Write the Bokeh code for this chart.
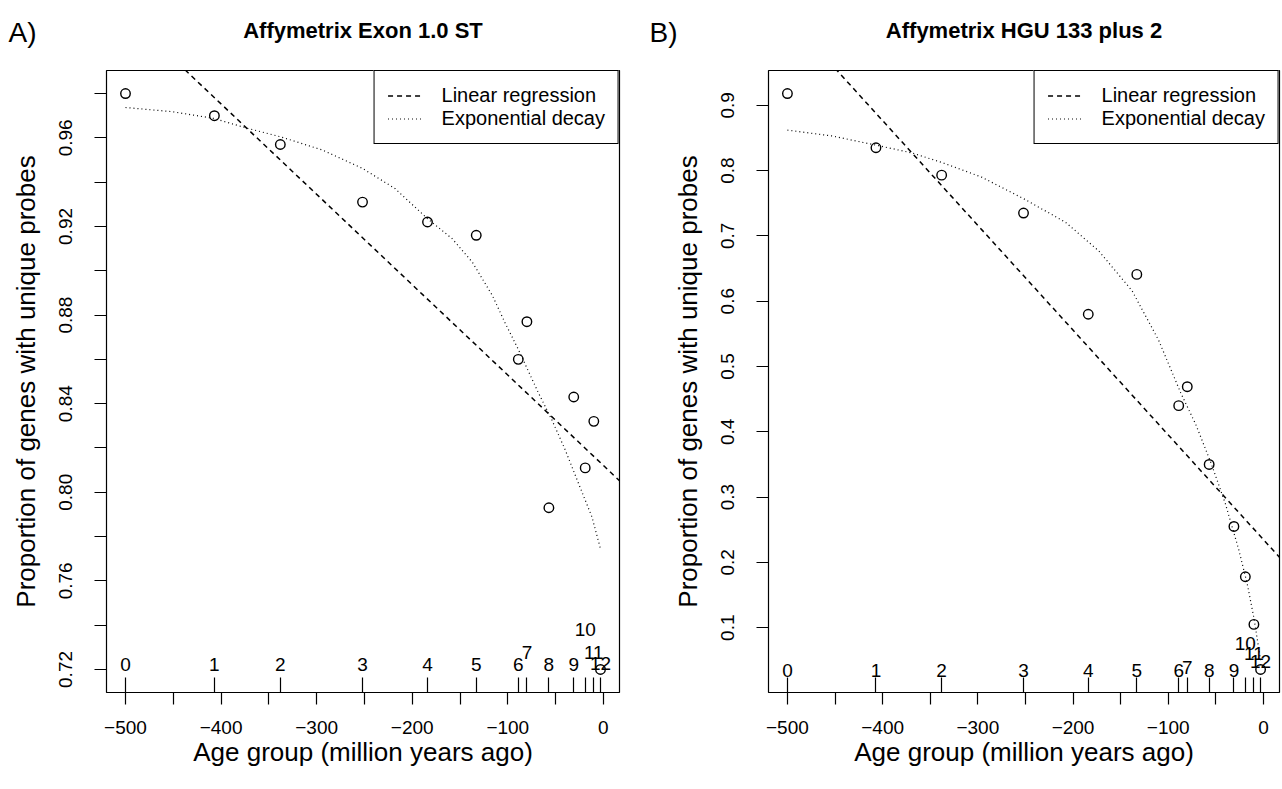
from bokeh.plotting import figure
from bokeh.layouts import row, column
from bokeh.models import FixedTicker, Range1d, NumeralTickFormatter
from bokeh.embed import file_html
from bokeh.resources import INLINE
from bokeh.core.properties import value

FONT = "Liberation Sans"

# ---------------- data ----------------
age_group = [str(i) for i in range(13)]
age_mya = [-500, -407, -338, -252, -184, -133, -89, -80, -57, -31, -19, -10, -3]

exon_prop = [0.980, 0.970, 0.957, 0.931, 0.922, 0.916, 0.860, 0.877, 0.793, 0.843, 0.811, 0.832, 0.720]
hgu_prop = [0.918, 0.835, 0.793, 0.735, 0.580, 0.641, 0.440, 0.469, 0.350, 0.255, 0.178, 0.105, 0.036]

# linear regression lines (intercept at 0 Mya, slope per Myr)
exon_lin_intercept, exon_lin_slope = 0.8121, -0.000408
hgu_lin_intercept, hgu_lin_slope = 0.2349, -0.001604

# exponential decay fitted curves
exon_decay_x = [-500, -451, -408, -374, -338, -294, -252, -218, -184, -158, -137, -116, -103, -89, -68, -54, -40, -26, -12, -3]
exon_decay_y = [0.9737, 0.9718, 0.9688, 0.9645, 0.9605, 0.9545, 0.9462, 0.9371, 0.9235, 0.9144, 0.9038, 0.8887,
                0.8766, 0.8645, 0.8449, 0.8328, 0.8192, 0.8040, 0.7889, 0.7745]
hgu_decay_x = [-500, -453, -407, -369, -337, -296, -252, -208, -173, -138, -110, -87, -71, -55, -40, -26, -17, -10, -3]
hgu_decay_y = [0.862, 0.853, 0.839, 0.827, 0.812, 0.790, 0.757, 0.721, 0.677, 0.616, 0.540, 0.460, 0.411,
               0.352, 0.290, 0.220, 0.167, 0.115, 0.050]

x_ticks = list(range(-500, 1, 50))
exon_y_major = [0.72, 0.76, 0.80, 0.84, 0.88, 0.92, 0.96]
exon_y_minor = [0.74, 0.78, 0.82, 0.86, 0.90, 0.94, 0.98]
hgu_y_major = [0.1, 0.2, 0.3, 0.4, 0.5, 0.6, 0.7, 0.8, 0.9]

panel_titles = ["Affymetrix Exon 1.0 ST", "Affymetrix HGU 133 plus 2"]
panel_letters = ["A)", "B)"]

# ---------------- layout / style ----------------
HEADER_H = 66
FRAME_H = 622
TOP = 4
BOTTOM = 88
L1, W1, R1 = 106, 513, 24       # left panel borders / frame width
L2, W2, R2 = 125, 511, 2        # right panel
TOTAL_W = L1 + W1 + R1 + L2 + W2 + R2


def fmt_x(t):
    if t % 100 != 0:
        return ""
    return "\u2212" + str(abs(t)) if t < 0 else str(t)


x_tick_labels = {t: fmt_x(t) for t in x_ticks}


def pad(lo, hi):
    d = (hi - lo) * 0.04
    return lo - d, hi + d


def panel(props, lin_a, lin_b, dx, dy, y_major, y_minor, y_fmt,
          raise_px, border_left, frame_w, border_right):
    x0, x1 = pad(min(age_mya), max(age_mya))
    y0, y1 = pad(min(props), max(props))
    p = figure(frame_width=frame_w, frame_height=FRAME_H,
               min_border_left=border_left, min_border_right=border_right,
               min_border_top=TOP, min_border_bottom=BOTTOM,
               x_range=Range1d(x0, x1), y_range=Range1d(y0, y1),
               output_backend="svg", toolbar_location=None, tools="")
    p.xgrid.visible = False
    p.ygrid.visible = False
    p.background_fill_color = "white"
    p.border_fill_color = "white"
    p.outline_line_color = "black"
    p.outline_line_width = 1.2
    p.outline_line_alpha = 1.0

    # x axis
    xa = p.xaxis[0]
    xa.ticker = FixedTicker(ticks=x_ticks, minor_ticks=age_mya)
    xa.major_label_overrides = x_tick_labels
    xa.axis_line_color = None
    xa.major_tick_in = 0
    xa.major_tick_out = 12
    xa.minor_tick_in = 15
    xa.minor_tick_out = 0
    xa.major_tick_line_color = "black"
    xa.minor_tick_line_color = "black"
    xa.major_tick_line_width = 1.2
    xa.minor_tick_line_width = 1.2
    xa.major_label_text_font = FONT
    xa.major_label_text_font_size = "19px"
    xa.major_label_text_color = "black"
    xa.major_label_standoff = 16
    xa.axis_label = "Age group (million years ago)"
    xa.axis_label_text_font = FONT
    xa.axis_label_text_font_size = "26px"
    xa.axis_label_text_font_style = "normal"
    xa.axis_label_text_color = "black"
    xa.axis_label_standoff = 0

    # y axis
    ya = p.yaxis[0]
    ya.ticker = FixedTicker(ticks=y_major, minor_ticks=y_minor)
    ya.formatter = NumeralTickFormatter(format=y_fmt)
    ya.axis_line_color = None
    ya.major_tick_in = 0
    ya.major_tick_out = 12
    ya.minor_tick_in = 0
    ya.minor_tick_out = 12
    ya.major_tick_line_color = "black"
    ya.minor_tick_line_color = "black"
    ya.major_tick_line_width = 1.2
    ya.minor_tick_line_width = 1.2
    ya.major_label_orientation = "vertical"
    ya.major_label_text_font = FONT
    ya.major_label_text_font_size = "19px"
    ya.major_label_text_color = "black"
    ya.major_label_standoff = 22
    ya.axis_label = "Proportion of genes with unique probes"
    ya.axis_label_text_font = FONT
    ya.axis_label_text_font_size = "26px"
    ya.axis_label_text_font_style = "normal"
    ya.axis_label_text_color = "black"
    ya.axis_label_standoff = 16

    # fitted lines
    lin_x = [x0, x1]
    lin_y = [lin_a + lin_b * x for x in lin_x]
    p.line(lin_x, lin_y, line_color="black", line_width=1.5, line_dash="5 4",
           legend_label="Linear regression")
    p.line(dx, dy, line_color="black", line_width=1.2, line_dash="1 3",
           legend_label="Exponential decay")

    # points
    p.scatter(age_mya, props, marker="circle", size=9.5, fill_color=None,
              line_color="black", line_width=1.4)

    # age group numbers above the rug ticks
    lab_y = [y0 + r * (y1 - y0) / FRAME_H for r in raise_px]
    p.text(x=age_mya, y=lab_y, text=age_group, text_align="center",
           text_baseline="alphabetic", text_font=value(FONT),
           text_font_size="19px", text_color="black")

    # legend
    lg = p.legend[0]
    lg.location = "top_right"
    lg.margin = 0
    lg.padding = 13
    lg.spacing = 0
    lg.glyph_width = 36
    lg.glyph_height = 23
    lg.label_height = 23
    lg.label_standoff = 18
    lg.label_text_font = FONT
    lg.label_text_font_size = "20px"
    lg.label_text_color = "black"
    lg.border_line_color = "black"
    lg.border_line_width = 1.2
    lg.border_line_alpha = 1.0
    lg.background_fill_alpha = 1.0
    return p


exon_raise = [28, 28, 28, 28, 28, 28, 28, 40, 28, 28, 63, 40, 29]
hgu_raise = [22, 22, 22, 22, 22, 22, 22, 25, 22, 22, 49, 39, 31]

p1 = panel(exon_prop, exon_lin_intercept, exon_lin_slope,
           exon_decay_x, exon_decay_y, exon_y_major, exon_y_minor, "0.00",
           exon_raise, L1, W1, R1)
p2 = panel(hgu_prop, hgu_lin_intercept, hgu_lin_slope,
           hgu_decay_x, hgu_decay_y, hgu_y_major, [], "0.0",
           hgu_raise, L2, W2, R2)

# header strip with panel letters and titles (pixel coordinates, y downwards)
header = figure(frame_width=TOTAL_W, frame_height=HEADER_H,
                min_border_left=0, min_border_right=0, min_border_top=0, min_border_bottom=0,
                x_range=Range1d(0, TOTAL_W), y_range=Range1d(HEADER_H, 0),
                x_axis_location=None, y_axis_location=None,
                output_backend="svg", toolbar_location=None, tools="")
header.xgrid.visible = False
header.ygrid.visible = False
header.outline_line_color = None
header.background_fill_color = "white"
header.border_fill_color = "white"

left_of_panel2 = L1 + W1 + R1
title_cx = [L1 + W1 / 2, left_of_panel2 + L2 + W2 / 2]
letter_x = [8, left_of_panel2 + 6]
header.text(x=title_cx, y=[30, 30], text=panel_titles, text_align="center",
            text_baseline="alphabetic", text_font=value(FONT), text_font_size="22px",
            text_font_style="bold", text_color="black")
header.text(x=letter_x, y=[32, 32], text=panel_letters, text_align="left",
            text_baseline="alphabetic", text_font=value(FONT), text_font_size="28px",
            text_color="black")

layout = column(header, row(p1, p2))
open("out.html", "w").write(file_html(layout, INLINE, title="Proportion of genes with unique probes"))
